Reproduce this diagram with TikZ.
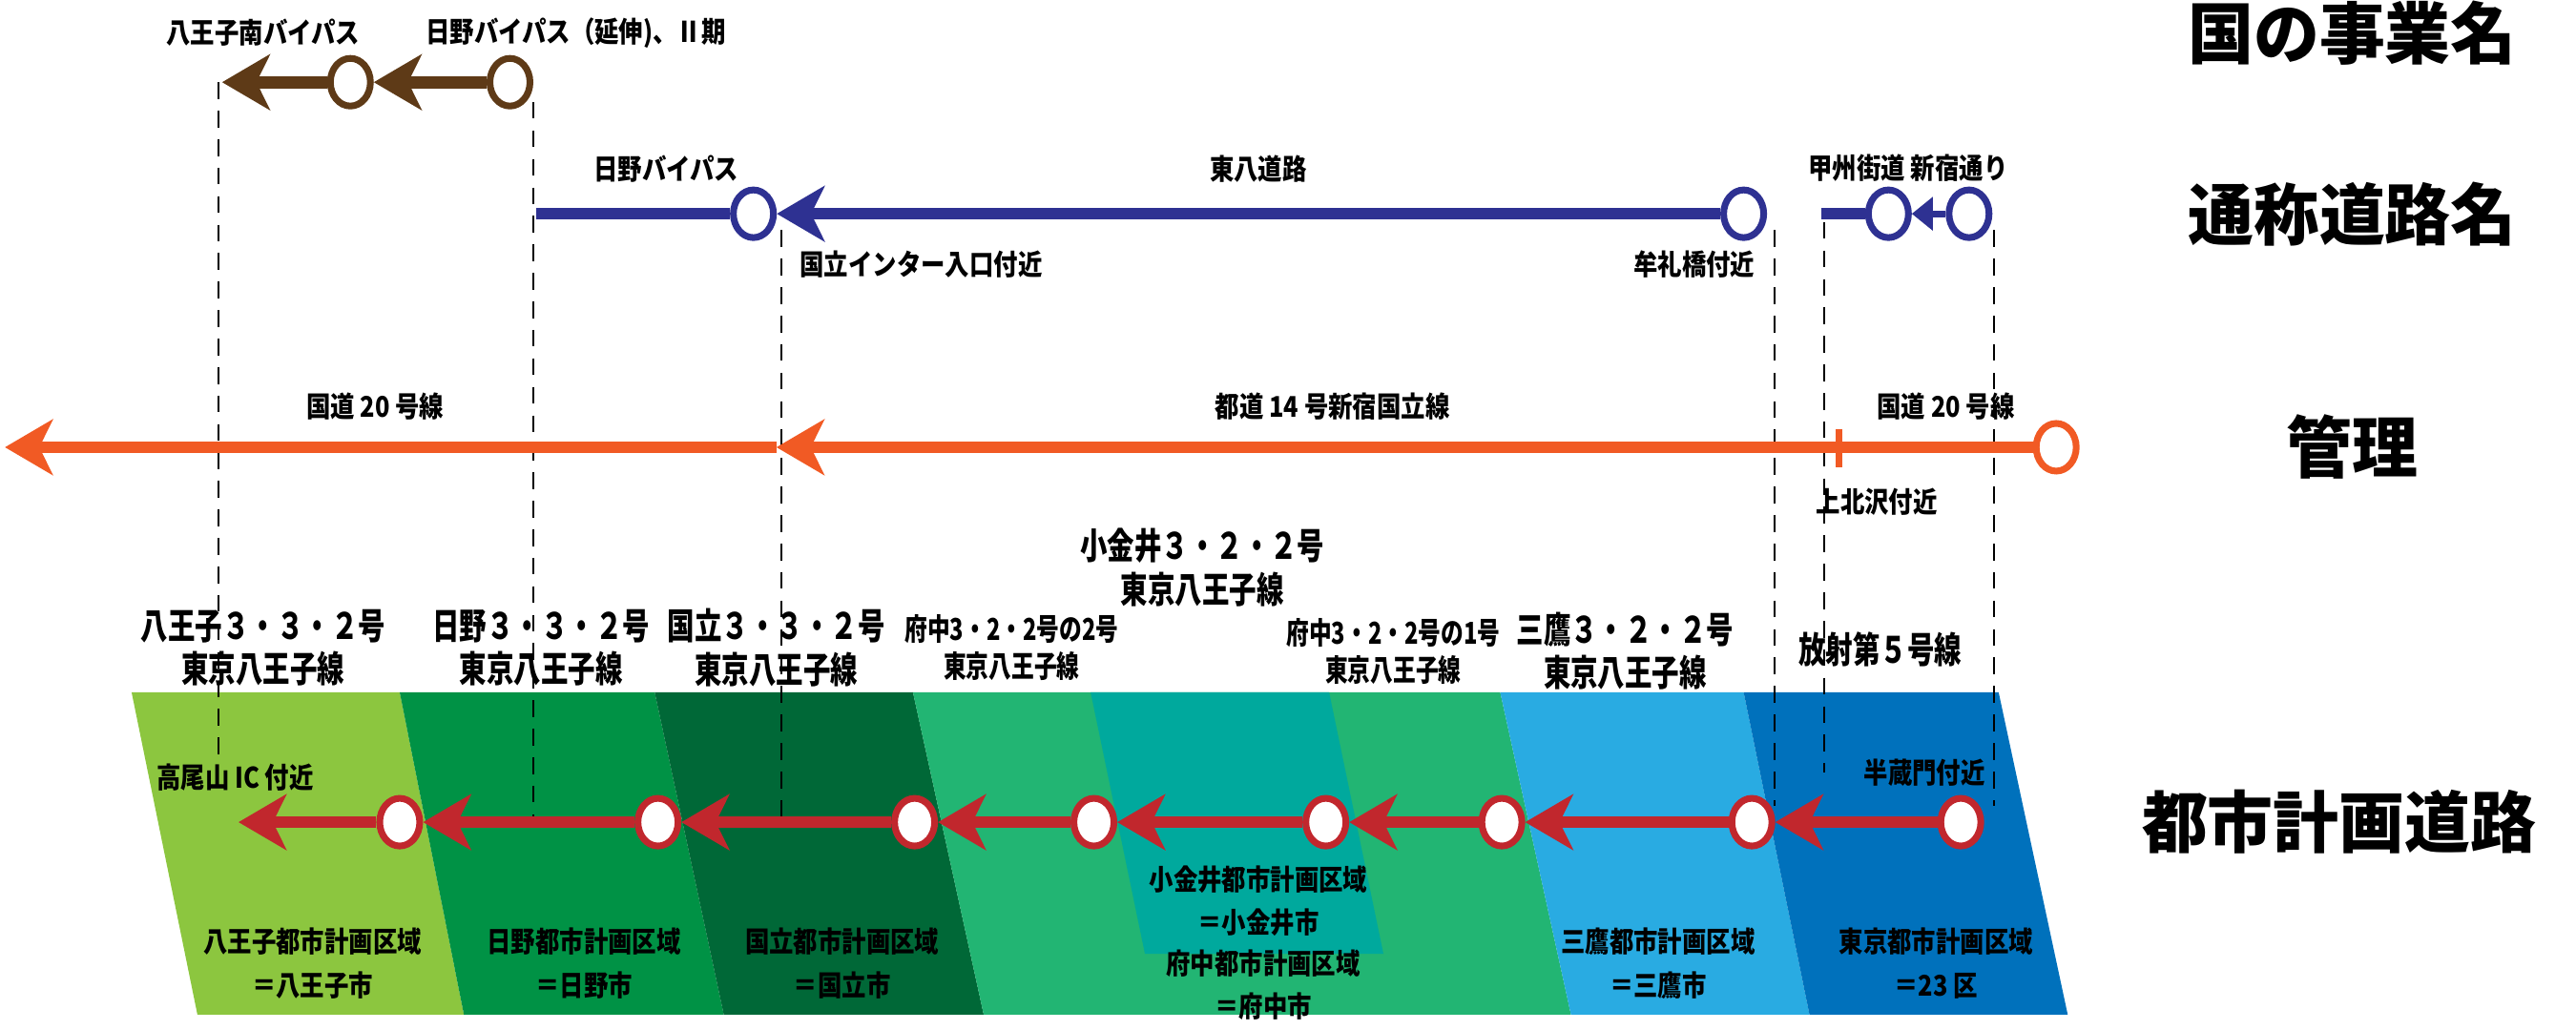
\documentclass[tikz,border=0pt]{standalone}
\usepackage{fontspec}
\setmainfont{Noto Sans CJK JP}
\usetikzlibrary{arrows.meta,shapes.geometric}
\definecolor{brn}{HTML}{5E3A17}
\definecolor{blu}{HTML}{2E3192}
\definecolor{org}{HTML}{F15A24}
\definecolor{rd}{HTML}{C1272D}
\definecolor{lgreen}{HTML}{8CC63F}
\definecolor{mgreen}{HTML}{009245}
\definecolor{dgreen}{HTML}{006837}
\definecolor{sgreen}{HTML}{22B573}
\definecolor{teal}{HTML}{00A99D}
\definecolor{lblue}{HTML}{29ABE2}
\definecolor{dblue}{HTML}{0071BC}
\tikzset{
  stop/.style={ellipse,draw=#1,line width=2pt,fill=white,minimum width=0.42cm,minimum height=0.5cm,inner sep=0pt},
  road/.style={line width=3.6pt,draw=#1},
  roadarr/.style={road=#1,-{Stealth[length=0.5cm,width=0.58cm,inset=0.14cm]}},
  guide/.style={line width=0.6pt,dash pattern=on 5pt off 3.5pt},
  lbl/.style={font=\fontsize{8.5}{10}\selectfont\bfseries,xscale=0.85,inner sep=1pt},
  mlbl/.style={font=\fontsize{10.8}{13}\selectfont\bfseries,xscale=0.75,inner sep=1pt,align=center},
  slbl/.style={font=\fontsize{9}{11}\selectfont\bfseries,xscale=0.75,inner sep=1pt,align=center},
  head/.style={font=\fontsize{20}{23}\selectfont\bfseries,xscale=0.98}
}
\begin{document}
\begin{tikzpicture}[x=0.01724cm,y=-0.01724cm]
\useasboundingbox (0,0) rectangle (1566,626);
% zones
\fill[lgreen] (80,421)--(243,421)--(282,617)--(120,617)--cycle;
\fill[mgreen] (243,421)--(398,421)--(440,617)--(282,617)--cycle;
\fill[dgreen] (398,421)--(555,421)--(598,617)--(440,617)--cycle;
\fill[sgreen] (555,421)--(912,421)--(955,617)--(598,617)--cycle;
\fill[teal] (663,421)--(808,421)--(841,580)--(696,580)--cycle;
\fill[lblue] (912,421)--(1060,421)--(1100,617)--(955,617)--cycle;
\fill[dblue] (1060,421)--(1215,421)--(1257,617)--(1100,617)--cycle;
% guides
\draw[guide] (133,50)--(133,465);
\draw[guide] (324,62)--(324,497);
\draw[guide] (475,140)--(475,497);
\draw[guide] (1079,140)--(1079,490);
\draw[guide] (1109,135)--(1109,470);
\draw[guide] (1212,140)--(1212,490);
% nodes
\node[stop=brn] (b1) at (213,50) {};
\node[stop=brn] (b2) at (310,50) {};
\coordinate (bt) at (135,50);
\coordinate (bs) at (326,130);
\node[stop=blu] (u1) at (458,130) {};
\node[stop=blu] (u2) at (1060,130) {};
\coordinate (us) at (1107,130);
\node[stop=blu] (u3) at (1148,130) {};
\node[stop=blu] (u4) at (1197,130) {};
\coordinate (ot) at (3,272);
\coordinate (om) at (472,272);
\coordinate (ok) at (1118,272);
\node[stop=org] (o1) at (1250,272) {};
\coordinate (rt) at (145,500);
\foreach \n/\x in {1/243,2/400,3/556,4/665,5/806,6/913,7/1065,8/1192}
  \node[stop=rd] (r\n) at (\x,500) {};
% lines
\draw[roadarr=brn] (b1.west)--(bt);
\draw[roadarr=brn] (b2.west)--(b1.east);
\draw[road=blu] (bs)--(u1.west);
\draw[roadarr=blu] (u2.west)--(u1.east);
\draw[road=blu] (us)--(u3.west);
\draw[blu,line width=2pt,-{Triangle[length=0.22cm,width=0.34cm]}] (u4.west)--(u3.east);
\draw[roadarr=org] (om)--(ot);
\draw[roadarr=org] (ok)--(om);
\draw[road=org] (ok)--(o1.west);
\draw[org,line width=2pt] (1118,261)--(1118,284);
\draw[roadarr=rd] (r1.west)--(rt);
\foreach \a/\b in {2/1,3/2,4/3,5/4,6/5,7/6,8/7}
  \draw[roadarr=rd] (r\a.west)--(r\b.east);
% labels
\node[lbl] (l1) at (160,20) {八王子南バイパス};
\node[lbl] (l2) at (350,20) {日野バイパス（延伸)、Ⅱ期};
\node[lbl] (l3) at (405,103) {日野バイパス};
\node[lbl] (l4) at (765,103) {東八道路};
\node[lbl] (l5) at (1160,102) {甲州街道 新宿通り};
\node[lbl] (l6) at (560,161) {国立インター入口付近};
\node[lbl] (l7) at (1030,161) {牟礼橋付近};
\node[lbl] (l8) at (228,247) {国道 20 号線};
\node[lbl] (l9) at (810,247) {都道 14 号新宿国立線};
\node[lbl] (l10) at (1183,247) {国道 20 号線};
\node[lbl] (l11) at (1141,305) {上北沢付近};
\node[lbl] (l12) at (143,473) {高尾山 IC 付近};
\node[lbl] (l13) at (1170,470) {半蔵門付近};
\node[mlbl] (c1) at (160,394) {八王子３・３・２号\\東京八王子線};
\node[mlbl] (c2) at (329,394) {日野３・３・２号\\東京八王子線};
\node[mlbl] (c3) at (472,394) {国立３・３・２号\\東京八王子線};
\node[slbl] (c4) at (615,394) {府中3・2・2号の2号\\東京八王子線};
\node[mlbl] (c5) at (731,345) {小金井３・２・２号\\東京八王子線};
\node[slbl] (c6) at (847,396) {府中3・2・2号の1号\\東京八王子線};
\node[mlbl] (c7) at (988,396) {三鷹３・２・２号\\東京八王子線};
\node[mlbl] (c8) at (1143,395) {放射第５号線};
\node[lbl,align=center] (d1) at (190,586) {八王子都市計画区域\\[3pt]＝八王子市};
\node[lbl,align=center] (d2) at (355,586) {日野都市計画区域\\[3pt]＝日野市};
\node[lbl,align=center] (d3) at (512,586) {国立都市計画区域\\[3pt]＝国立市};
\node[lbl,align=center] (d4) at (765,548) {小金井都市計画区域\\[3pt]＝小金井市};
\node[lbl,align=center] (d5) at (768,599) {府中都市計画区域\\[3pt]＝府中市};
\node[lbl,align=center] (d6) at (1008,586) {三鷹都市計画区域\\[3pt]＝三鷹市};
\node[lbl,align=center] (d7) at (1177,586) {東京都市計画区域\\[3pt]＝23 区};
\node[head] (h1) at (1430,20) {国の事業名};
\node[head] (h2) at (1430,130) {通称道路名};
\node[head] (h3) at (1430,272) {管理};
\node[head] (h4) at (1422,500) {都市計画道路};
\end{tikzpicture}
\end{document}
